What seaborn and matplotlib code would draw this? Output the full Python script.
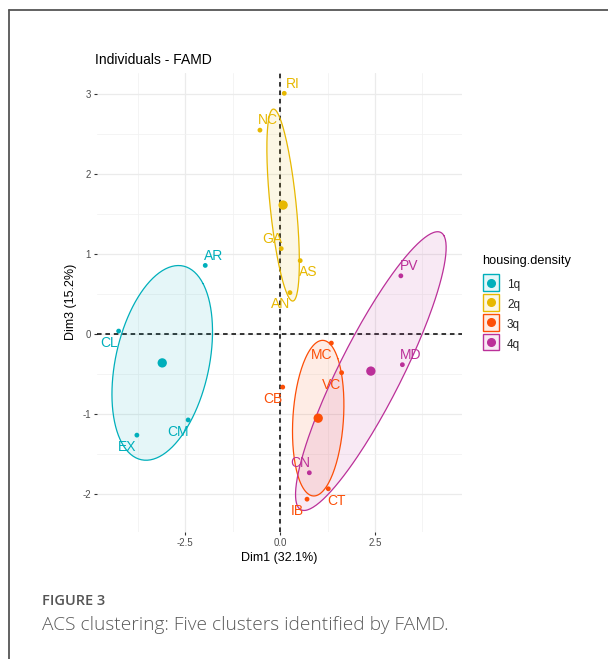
import numpy as np
import pandas as pd
import matplotlib
matplotlib.use("Agg")
import matplotlib.pyplot as plt
import seaborn as sns
from matplotlib.patches import Patch, Rectangle
from matplotlib.lines import Line2D
from matplotlib.legend_handler import HandlerBase
from matplotlib.colors import to_rgba

# Individual coordinates on the first and third FAMD dimensions
labels = ["AR", "CL", "CM", "EX",
          "RI", "NC", "GA", "AS", "AN",
          "CB", "MC", "VC", "CT", "IB",
          "PV", "MD", "CN"]
dim1 = [-1.97, -4.25, -2.42, -3.77,
        0.11, -0.53, 0.03, 0.53, 0.26,
        0.07, 1.35, 1.62, 1.27, 0.71,
        3.18, 3.22, 0.77]
dim3 = [0.86, 0.04, -1.07, -1.26,
        3.01, 2.55, 1.07, 0.92, 0.52,
        -0.66, -0.11, -0.48, -1.93, -2.06,
        0.73, -0.38, -1.73]
density = ["1q"] * 4 + ["2q"] * 5 + ["3q"] * 5 + ["4q"] * 3
groups = ["1q", "2q", "3q", "4q"]

# label placement around each point (repel-style)
label_side = ["ne", "sw", "sw", "sw",
              "ne", "ne", "nw", "se", "sw",
              "sw", "sw", "sw", "se", "sw",
              "ne", "ne", "nw"]
side_offset = {"ne": (6.0, 7.0), "nw": (-6.5, 7.0),
               "se": (6.0, -8.5), "sw": (-7.0, -8.5)}

palette = {"1q": "#00AFBB", "2q": "#E7B800", "3q": "#FC4E07", "4q": "#BB3099"}

df = pd.DataFrame({"label": labels, "Dim1": dim1, "Dim3": dim3,
                   "housing.density": density})
centers = df.groupby("housing.density", as_index=False)[["Dim1", "Dim3"]].mean()


def confidence_ellipse(x, y, level=0.95, npoint=200):
    """Confidence ellipse around the group barycentre."""
    pts = np.column_stack([x, y])
    cov = np.cov(pts, rowvar=False) / len(pts)
    cx, cy = pts.mean(axis=0)
    sx, sy = np.sqrt(np.diag(cov))
    r = cov[0, 1] / (sx * sy)
    t = np.sqrt(-2.0 * np.log(1.0 - level))
    d = np.arccos(r)
    a = np.linspace(0, 2 * np.pi, npoint)
    return cx + t * sx * np.cos(a + d / 2), cy + t * sy * np.cos(a - d / 2)


class KeyHandler(HandlerBase):
    """Square key with a light fill, coloured border and a point in the middle."""

    def create_artists(self, legend, orig_handle, xdescent, ydescent,
                       width, height, fontsize, trans):
        col = orig_handle.get_edgecolor()
        x0, y0 = -xdescent, -ydescent
        h = height + ydescent
        rect = Rectangle((x0 + 0.5, y0 + 0.5), width - 1, h - 1,
                         facecolor=to_rgba(col, 0.1), edgecolor=col, lw=1.0,
                         transform=trans)
        dot = Line2D([x0 + width / 2], [y0 + h / 2], marker="o", ls="",
                     color=col, ms=5.5, transform=trans)
        return [rect, dot]


sns.set_theme(style="white")
plt.rcParams["font.family"] = ["Liberation Sans", "DejaVu Sans"]
plt.rcParams["axes.unicode_minus"] = False

W, H = 608, 659
fig = plt.figure(figsize=(W / 100, H / 100), dpi=100)
fig.patch.set_facecolor("white")

# card border
fig.add_artist(Line2D([9 / W, 1.0], [1 - 10 / H, 1 - 10 / H], color="#555555", lw=1.3))
fig.add_artist(Line2D([9 / W, 9 / W], [0, 1 - 10 / H], color="#555555", lw=1.3))

ax = fig.add_axes([97 / W, 1 - 532 / H, (462 - 97) / W, (532 - 72.5) / H])
ax.set_facecolor("white")

ax.set_xlim(-4.82, 4.79)
ax.set_ylim(-2.47, 3.27)
ax.set_xticks([-2.5, 0.0, 2.5])
ax.set_xticklabels(["-2.5", "0.0", "2.5"])
ax.set_yticks([-2, -1, 0, 1, 2, 3])
ax.set_xticks([-3.75, -1.25, 1.25, 3.75], minor=True)
ax.set_yticks([-1.5, -0.5, 0.5, 1.5, 2.5], minor=True)
ax.grid(True, which="major", color="#EBEBEB", lw=0.9)
ax.grid(True, which="minor", color="#F2F2F2", lw=0.6)
ax.set_axisbelow(True)
for s in ax.spines.values():
    s.set_visible(False)
ax.tick_params(axis="both", which="major", length=2.5, width=0.8, color="#333333",
               labelsize=7, labelcolor="#4D4D4D", pad=2, bottom=True, left=True)
ax.tick_params(axis="both", which="minor", length=0)

ax.axhline(0, color="black", lw=1.1, ls=(0, (3, 2.5)), zorder=1.5)
ax.axvline(0, color="black", lw=1.1, ls=(0, (3, 2.5)), zorder=1.5)

for g in groups:
    sub = df[df["housing.density"] == g]
    ex, ey = confidence_ellipse(sub["Dim1"].values, sub["Dim3"].values)
    ax.fill(ex, ey, color=palette[g], alpha=0.1, lw=0, zorder=2)
    ax.plot(ex, ey, color=palette[g], lw=0.9, zorder=2.2)

sns.scatterplot(data=df, x="Dim1", y="Dim3", hue="housing.density", palette=palette,
                hue_order=groups, s=12, edgecolor="none", legend=False, ax=ax, zorder=3)
sns.scatterplot(data=centers, x="Dim1", y="Dim3", hue="housing.density", palette=palette,
                hue_order=groups, s=45, edgecolor="none", legend=False, ax=ax, zorder=3)

for lab, x, y, g, side in zip(labels, dim1, dim3, density, label_side):
    dx, dy = side_offset[side]
    ax.annotate(lab, (x, y), xytext=(dx, dy), textcoords="offset points",
                ha="center", va="center", fontsize=10, color=palette[g], zorder=4)

ax.set_xlabel("Dim1 (32.1%)", fontsize=9, color="black", labelpad=3)
ax.set_ylabel("Dim3 (15.2%)", fontsize=9, color="black", labelpad=4)
ax.set_title("Individuals - FAMD", fontsize=10, color="black", loc="left",
             x=-0.005, pad=6)

# legend: title set as its own text, keys below it
fig.text(482 / W, 1 - 261 / H, "housing.density", fontsize=9.2, color="black",
         ha="left", va="center")
handles = [Patch(edgecolor=palette[g]) for g in groups]
leg = fig.legend(handles, groups, handler_map={Patch: KeyHandler()},
                 loc="upper left", bbox_to_anchor=(482 / W, 1 - 277 / H),
                 frameon=False, fontsize=8.5, handlelength=1.52, handleheight=1.52,
                 labelspacing=0.45, handletextpad=0.6, borderaxespad=0, borderpad=0)

fig.text(42 / W, 1 - 601 / H, "FIGURE 3", fontsize=10.5, color="#555555",
         family=["Open Sans", "DejaVu Sans"], weight="semibold", va="center", ha="left")
fig.text(42 / W, 1 - 625 / H, "ACS clustering: Five clusters identified by FAMD.",
         fontsize=13.8, color="#5A5A5A", family=["Open Sans", "DejaVu Sans"],
         weight="light", va="center", ha="left")

fig.savefig("out.png", dpi=100, facecolor="white")
